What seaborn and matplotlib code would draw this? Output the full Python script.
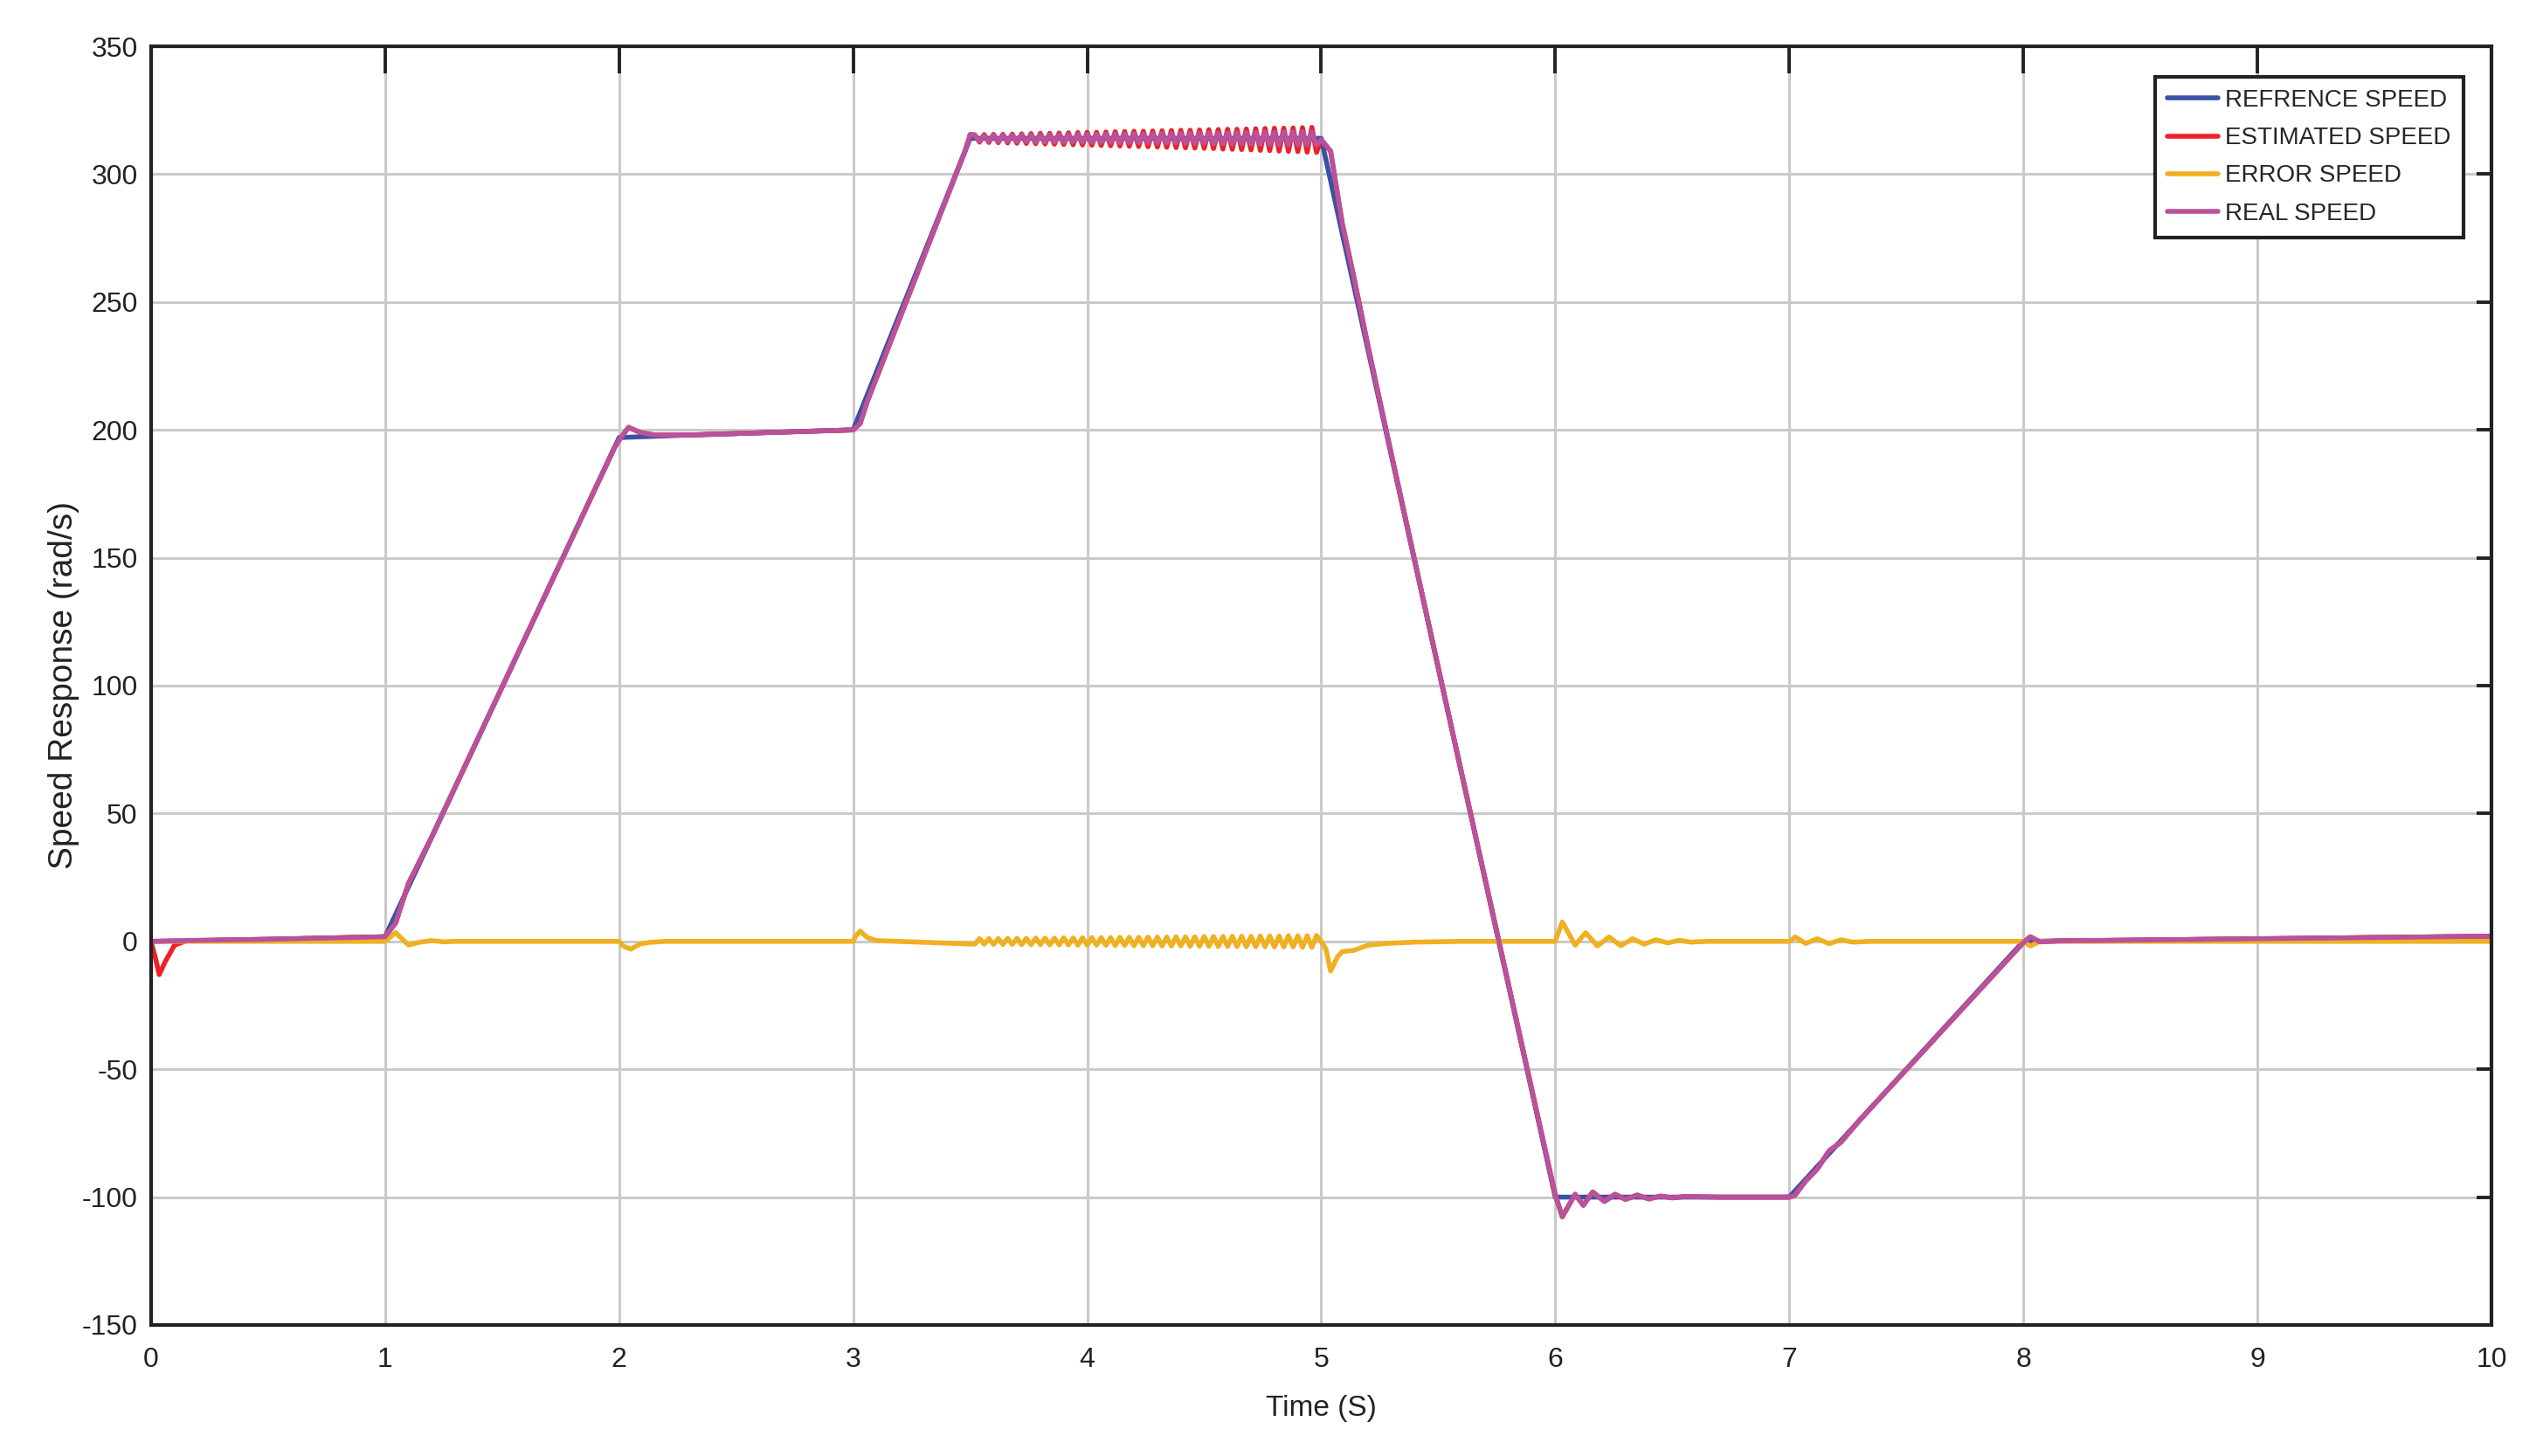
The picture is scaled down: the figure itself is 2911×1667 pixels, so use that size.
import pandas as pd
import seaborn as sns
import matplotlib.pyplot as plt

sns.set_theme(style="whitegrid", context="paper")
plt.rcParams["font.family"] = ["Liberation Sans", "DejaVu Sans"]
plt.rcParams["axes.unicode_minus"] = False

# reference speed (rad/s) vs time (s)
ref_t = [0, 0.5, 1.0, 2.0, 2.3, 3.0, 3.5, 5.0, 6.0, 7.0, 8.0, 8.5, 9.0, 9.5, 10.0]
ref_v = [0, 0.8, 1.8, 197, 198, 200, 314, 314, -100, -100, 0, 0.5, 1.0, 1.5, 2.0]

# real speed: start + ramps up to 3.5 s
rise_t = [0, 0.2, 0.5, 1.0, 1.045, 1.10, 1.2, 1.98, 2.0, 2.04, 2.09, 2.15, 2.3,
          3.0, 3.03, 3.06, 3.48, 3.5]
rise_v = [0, 0.4, 0.8, 1.8, 7.2, 22.7, 41.0, 193, 196, 201, 199, 198, 198,
          200, 202.5, 211, 309.5, 315.5]

# estimated speed differs at start-up
est_start_t = [0, 0.02, 0.035, 0.06, 0.1, 0.15, 0.5, 1.0]
est_start_v = [0, -7, -13, -8, -1.5, 0.2, 0.8, 1.8]

# steady oscillation at the 314 rad/s plateau
flat_t = [3.52, 3.54, 3.56, 3.58, 3.60, 3.62, 3.64, 3.66, 3.68, 3.70,
          3.72, 3.74, 3.76, 3.78, 3.80, 3.82, 3.84, 3.86, 3.88, 3.90,
          3.92, 3.94, 3.96, 3.98, 4.00, 4.02, 4.04, 4.06, 4.08, 4.10,
          4.12, 4.14, 4.16, 4.18, 4.20, 4.22, 4.24, 4.26, 4.28, 4.30,
          4.32, 4.34, 4.36, 4.38, 4.40, 4.42, 4.44, 4.46, 4.48, 4.50,
          4.52, 4.54, 4.56, 4.58, 4.60, 4.62, 4.64, 4.66, 4.68, 4.70,
          4.72, 4.74, 4.76, 4.78, 4.80, 4.82, 4.84, 4.86, 4.88, 4.90,
          4.92, 4.94, 4.96, 4.98]
real_flat = [315.2, 312.8, 315.2, 312.8, 315.3, 312.8, 315.3, 312.7, 315.3, 312.7,
             315.4, 312.7, 315.4, 312.6, 315.4, 312.6, 315.5, 312.6, 315.5, 312.5,
             315.5, 312.5, 315.6, 312.5, 315.6, 312.4, 315.6, 312.4, 315.7, 312.4,
             315.7, 312.3, 315.7, 312.3, 315.8, 312.3, 315.8, 312.2, 315.8, 312.2,
             315.9, 312.2, 315.9, 312.1, 315.9, 312.1, 316.0, 312.0, 316.0, 312.0,
             316.1, 311.9, 316.1, 311.9, 316.2, 311.8, 316.2, 311.8, 316.3, 311.7,
             316.3, 311.7, 316.4, 311.6, 316.4, 311.6, 316.5, 311.5, 316.5, 311.5,
             316.6, 311.4, 316.6, 311.4]
est_flat = [315.4, 312.5, 315.5, 312.4, 315.6, 312.3, 315.6, 312.2, 315.7, 312.1,
            315.8, 312.0, 315.9, 311.9, 316.0, 311.8, 316.0, 311.7, 316.1, 311.6,
            316.2, 311.5, 316.3, 311.4, 316.4, 311.3, 316.4, 311.2, 316.5, 311.1,
            316.6, 311.0, 316.7, 310.9, 316.8, 310.8, 316.8, 310.7, 316.9, 310.6,
            317.0, 310.5, 317.1, 310.4, 317.2, 310.3, 317.2, 310.2, 317.3, 310.1,
            317.4, 310.0, 317.5, 309.8, 317.6, 309.7, 317.6, 309.6, 317.7, 309.5,
            317.8, 309.3, 317.9, 309.2, 318.0, 309.0, 318.0, 308.9, 318.1, 308.8,
            318.2, 308.6, 318.3, 308.5]
err_flat = [-1.1, 1.1, -1.1, 1.1, -1.2, 1.1, -1.2, 1.2, -1.2, 1.2,
            -1.3, 1.2, -1.3, 1.3, -1.3, 1.3, -1.4, 1.3, -1.4, 1.4,
            -1.4, 1.4, -1.5, 1.4, -1.5, 1.5, -1.5, 1.5, -1.6, 1.5,
            -1.6, 1.6, -1.6, 1.6, -1.7, 1.6, -1.7, 1.7, -1.7, 1.7,
            -1.8, 1.7, -1.8, 1.8, -1.8, 1.8, -1.9, 1.8, -1.9, 1.9,
            -1.9, 1.9, -2.0, 1.9, -2.0, 2.0, -2.0, 2.0, -2.1, 2.0,
            -2.1, 2.1, -2.1, 2.1, -2.2, 2.1, -2.2, 2.2, -2.2, 2.2,
            -2.3, 2.2, -2.3, 2.3]

# real speed after 5 s: braking, reversal, return to zero
fall_t = [5.0, 5.04, 5.09, 5.14, 5.2, 5.28, 5.5, 5.98, 6.0, 6.03, 6.085, 6.12,
          6.16, 6.21, 6.255, 6.30, 6.35, 6.40, 6.45, 6.50, 6.55, 6.7, 7.0,
          7.025, 7.07, 7.12, 7.17, 7.22, 7.3, 8.0, 8.03, 8.07, 8.15, 8.5,
          9.0, 9.5, 10.0]
fall_v = [313.5, 309, 280.7, 259.5, 232.7, 198.8, 107, -91, -99, -107.7, -98.9,
          -103.2, -98, -101.7, -98.9, -100.9, -99.2, -100.7, -99.6, -100.3,
          -99.8, -100, -100, -99.2, -93.7, -89, -81.9, -78.6, -70, -0.5, 1.8,
          -0.2, 0.2, 0.5, 1.0, 1.5, 2.0]

# speed error
err_t = [0, 1.0, 1.02, 1.045, 1.10, 1.15, 1.2, 1.25, 1.3, 2.0, 2.02, 2.05,
         2.09, 2.13, 2.2, 3.0, 3.01, 3.03, 3.06, 3.1, 3.5]
err_v = [0, 0, 1.5, 3.4, -1.4, -0.3, 0.3, -0.2, 0, 0, -2, -3,
         -1, -0.4, 0, 0, 2, 4, 1.5, 0.3, -1.0]
err_end_t = [5.0, 5.02, 5.04, 5.07, 5.09, 5.14, 5.2, 5.28, 5.4, 5.6, 6.0,
             6.03, 6.085, 6.13, 6.18, 6.23, 6.28, 6.33, 6.38, 6.43, 6.48,
             6.53, 6.58, 6.65, 7.0, 7.025, 7.07, 7.12, 7.17, 7.22, 7.27,
             7.35, 8.0, 8.03, 8.07, 10.0]
err_end_v = [0, -3, -11.6, -6, -4, -3.5, -1.5, -0.8, -0.3, 0, 0,
             7.6, -1.5, 3.4, -1.8, 1.7, -1.7, 1.0, -1.1, 0.6, -0.6,
             0.4, -0.3, 0, 0, 1.7, -0.8, 1.0, -0.9, 0.6, -0.3,
             0, 0, -1.8, 0, 0]

labels = ["REFRENCE SPEED", "ESTIMATED SPEED", "ERROR SPEED", "REAL SPEED"]
colors = ["#3a52a4", "#ee2128", "#efb021", "#b8529c"]

series = {
    labels[0]: (ref_t, ref_v),
    labels[1]: (est_start_t + rise_t[4:] + flat_t + fall_t,
                est_start_v + rise_v[4:] + est_flat + fall_v),
    labels[2]: (err_t + flat_t + err_end_t, err_v + err_flat + err_end_v),
    labels[3]: (rise_t + flat_t + fall_t, rise_v + real_flat + fall_v),
}

fig = plt.figure(figsize=(14.555, 8.335), dpi=200)
ax = fig.add_axes([0.0594, 0.090, 0.9203, 0.8782])

for (name, (t, v)), c in zip(series.items(), colors):
    df = pd.DataFrame({"t": t, "v": v})
    sns.lineplot(data=df, x="t", y="v", ax=ax, color=c, linewidth=2.0,
                 label=name, estimator=None, sort=False)

ax.set_xlim(0, 10)
ax.set_ylim(-150, 350)
ax.set_xticks(range(0, 11))
ax.set_yticks(range(-150, 351, 50))
ax.grid(True, color="#cacaca", linewidth=1.1)
ax.tick_params(direction="in", width=1.4, top=True, right=True,
               labelsize=11.5, colors="#222222")
ax.tick_params(axis="x", length=11, pad=9)
ax.tick_params(axis="y", length=6, pad=5.5)
for s in ax.spines.values():
    s.set_color("#222222")
    s.set_linewidth(1.5)

ax.set_xlabel("Time (S)", fontsize=12, color="#222222", labelpad=9)
ax.set_ylabel("Speed Response (rad/s)", fontsize=14, color="#222222", labelpad=1)

leg = ax.legend(loc="upper right", bbox_to_anchor=(0.988, 0.976), fontsize=10,
                frameon=True, fancybox=False, framealpha=1, handlelength=2.1,
                handletextpad=0.3, borderpad=0.5, labelspacing=0.62,
                borderaxespad=0)
leg.get_frame().set_edgecolor("#222222")
leg.get_frame().set_linewidth(1.5)

fig.savefig("out.png", dpi=200)
